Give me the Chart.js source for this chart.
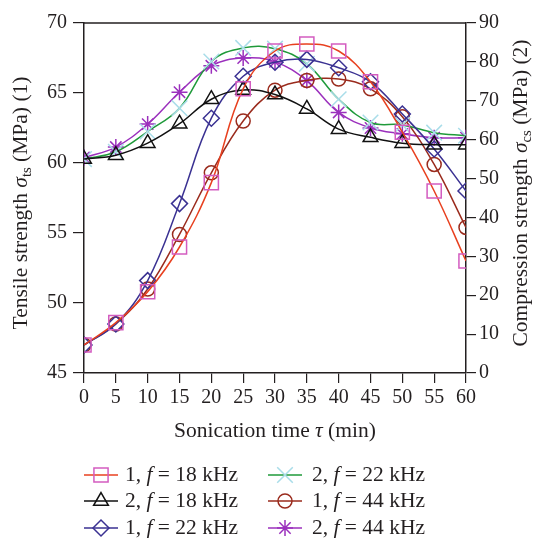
<!DOCTYPE html>
<html>
<head>
<meta charset="utf-8">
<script src="https://cdn.jsdelivr.net/npm/chart.js@4/dist/chart.umd.min.js"></script>
<style>
html,body{margin:0;padding:0;background:#fff;}
#c{display:block;}
</style>
</head>
<body>
<canvas id="c" width="535" height="538" style="width:535px;height:538px"></canvas>
<script>
// ---- data ----
const timeMin = [0, 5, 10, 15, 20, 25, 30, 35, 40, 45, 50, 55, 60];
const tensile18 = [47, 48.6, 50.8, 54.0, 58.6, 65.3, 68.0, 68.5, 68.0, 65.8, 62.2, 58.0, 53.0];
const compress18 = [55, 56, 59.1, 64.1, 70.4, 72.8, 71.6, 67.9, 62.7, 60.6, 59.1, 58.7, 58.7];
const tensile22 = [47, 48.5, 51.6, 57.1, 63.2, 66.2, 67.2, 67.4, 66.8, 65.8, 63.5, 61.0, 58.0];
const compress22 = [55, 56.9, 62.1, 68.1, 80.1, 83.6, 83.4, 79.5, 70.4, 64.4, 63.8, 61.8, 61.0];
const tensile44 = [47, 48.5, 51.0, 54.9, 59.3, 63.0, 65.2, 65.9, 66.0, 65.3, 63.3, 59.9, 55.4];
const compress44 = [55.4, 58.1, 64.0, 72.2, 79.0, 81.0, 80.0, 75.2, 67.0, 63.0, 61.5, 60.5, 60.5];
const leftTicks = [45, 50, 55, 60, 65, 70];
const rightTicks = [0, 10, 20, 30, 40, 50, 60, 70, 80, 90];
const xTicks = [0, 5, 10, 15, 20, 25, 30, 35, 40, 45, 50, 55, 60];
const seriesLabels = ['1', '2', '1', '2', '1', '2'];
const seriesFreq = ['18', '18', '22', '22', '44', '44'];

const FONT = "'Liberation Serif', 'Times New Roman', serif";
const INK = '#231f20';
const TXT = 21.5;

function pts(arr) { return arr.map((v, i) => ({x: timeMin[i], y: v})); }

const styleDefs = [
  {line: '#e8401f', mark: '#d35cc0', ps: 'rect', r: 10, axis: 'y'},
  {line: '#111111', mark: '#111111', ps: 'triangle', r: 8.5, axis: 'y2'},
  {line: '#3a3192', mark: '#3a3192', ps: 'rectRot', r: 8, axis: 'y'},
  {line: '#1f9a3a', mark: '#a9dde9', ps: 'crossRot', r: 11, axis: 'y2'},
  {line: '#9a2b1d', mark: '#9a2b1d', ps: 'circle', r: 7, axis: 'y'},
  {line: '#9b30bd', mark: '#9b30bd', ps: 'star', r: 8, axis: 'y2'}
];
const seriesData = [tensile18, compress18, tensile22, compress22, tensile44, compress44];

const datasets = seriesData.map((d, i) => {
  const s = styleDefs[i];
  return {
    label: seriesLabels[i] + ', f = ' + seriesFreq[i] + ' kHz',
    data: pts(d),
    yAxisID: s.axis,
    borderColor: s.line,
    borderWidth: 1.5,
    tension: 0.4,
    fill: false,
    pointStyle: s.ps,
    pointRadius: s.r,
    pointBorderColor: s.mark,
    pointBackgroundColor: 'rgba(0,0,0,0)',
    pointBorderWidth: 1.5
  };
});

function measureRuns(ctx, runs, size) {
  let w = 0;
  const meas = runs.map(r => {
    const sz = r.sub ? size * 0.68 : size;
    ctx.font = (r.italic ? 'italic ' : '') + sz + 'px ' + FONT;
    const mw = ctx.measureText(r.t).width;
    w += mw;
    return {r, sz, mw};
  });
  return {w, meas};
}
function paintRuns(ctx, runs, size, x, y, align) {
  const m = measureRuns(ctx, runs, size);
  let cx = align === 'center' ? x - m.w / 2 : x;
  ctx.textAlign = 'left';
  ctx.textBaseline = 'middle';
  m.meas.forEach(o => {
    ctx.font = (o.r.italic ? 'italic ' : '') + o.sz + 'px ' + FONT;
    ctx.fillText(o.r.t, cx, y + (o.r.sub ? size * 0.28 : 0));
    cx += o.mw;
  });
}

const decor = {
  id: 'decor',
  afterDraw(chart) {
    const ctx = chart.ctx;
    const a = chart.chartArea;
    ctx.save();
    // top frame
    ctx.strokeStyle = INK;
    ctx.lineWidth = 1.5;
    ctx.beginPath();
    ctx.moveTo(a.left, a.top);
    ctx.lineTo(a.right, a.top);
    ctx.stroke();
    ctx.fillStyle = INK;
    // x title
    paintRuns(ctx, [{t: 'Sonication time '}, {t: 'τ', italic: true}, {t: ' (min)'}], TXT, (a.left + a.right) / 2, 431, 'center');
    // left title
    ctx.save();
    ctx.translate(21, 203);
    ctx.rotate(-Math.PI / 2);
    paintRuns(ctx, [{t: 'Tensile strength '}, {t: 'σ', italic: true}, {t: 'ts', sub: true}, {t: ' (MPa) (1)'}], TXT, 0, 0, 'center');
    ctx.restore();
    // right title
    ctx.save();
    ctx.translate(521, 193);
    ctx.rotate(-Math.PI / 2);
    paintRuns(ctx, [{t: 'Compression strength '}, {t: 'σ', italic: true}, {t: 'cs', sub: true}, {t: ' (MPa) (2)'}], TXT, 0, 0, 'center');
    ctx.restore();
    // legend
    const cols = [{x0: 84, x1: 118, tx: 125}, {x0: 268, x1: 302, tx: 312}];
    const rows = [475, 501, 528];
    datasets.forEach((ds, i) => {
      const col = cols[Math.floor(i / 3)];
      const y = rows[i % 3];
      ctx.strokeStyle = ds.borderColor;
      ctx.lineWidth = 1.5;
      ctx.beginPath();
      ctx.moveTo(col.x0, y);
      ctx.lineTo(col.x1, y);
      ctx.stroke();
      ctx.strokeStyle = ds.pointBorderColor;
      ctx.fillStyle = 'rgba(0,0,0,0)';
      ctx.lineWidth = 1.5;
      Chart.helpers.drawPoint(ctx, {pointStyle: ds.pointStyle, rotation: 0, radius: ds.pointRadius, borderWidth: 1.5}, (col.x0 + col.x1) / 2, y);
      ctx.fillStyle = INK;
      paintRuns(ctx, [{t: seriesLabels[i] + ', '}, {t: 'f', italic: true}, {t: ' = ' + seriesFreq[i] + ' kHz'}], TXT, col.tx, y, 'left');
    });
    ctx.restore();
  }
};

const tickFont = {family: FONT, size: 20};
new Chart(document.getElementById('c'), {
  type: 'line',
  data: {datasets},
  options: {
    responsive: false,
    animation: false,
    events: [],
    layout: {padding: {top: 23, left: 0, right: 0, bottom: 0}},
    plugins: {legend: {display: false}, tooltip: {enabled: false}},
    scales: {
      x: {
        type: 'linear', min: 0, max: 60,
        afterBuildTicks(s) { s.ticks = xTicks.map(v => ({value: v})); },
        ticks: {font: tickFont, color: INK, padding: 3, maxRotation: 0, autoSkip: false},
        grid: {drawOnChartArea: false, tickLength: 10, color: INK, lineWidth: 1.2},
        border: {color: INK, width: 1.5},
        afterFit(s) { s.height = 165; }
      },
      y: {
        position: 'left', min: 45, max: 70,
        afterBuildTicks(s) { s.ticks = leftTicks.map(v => ({value: v})); },
        ticks: {font: tickFont, color: INK, padding: 6},
        grid: {drawOnChartArea: false, tickLength: 11, color: INK, lineWidth: 1.2},
        border: {color: INK, width: 1.5},
        afterFit(s) { s.width = 84; }
      },
      y2: {
        position: 'right', min: 0, max: 90,
        afterBuildTicks(s) { s.ticks = rightTicks.map(v => ({value: v})); },
        ticks: {font: tickFont, color: INK, padding: 3},
        grid: {drawOnChartArea: false, tickLength: 10, color: INK, lineWidth: 1.2},
        border: {color: INK, width: 1.5},
        afterFit(s) { s.width = 69; }
      }
    }
  },
  plugins: [decor]
});
</script>
</body>
</html>
